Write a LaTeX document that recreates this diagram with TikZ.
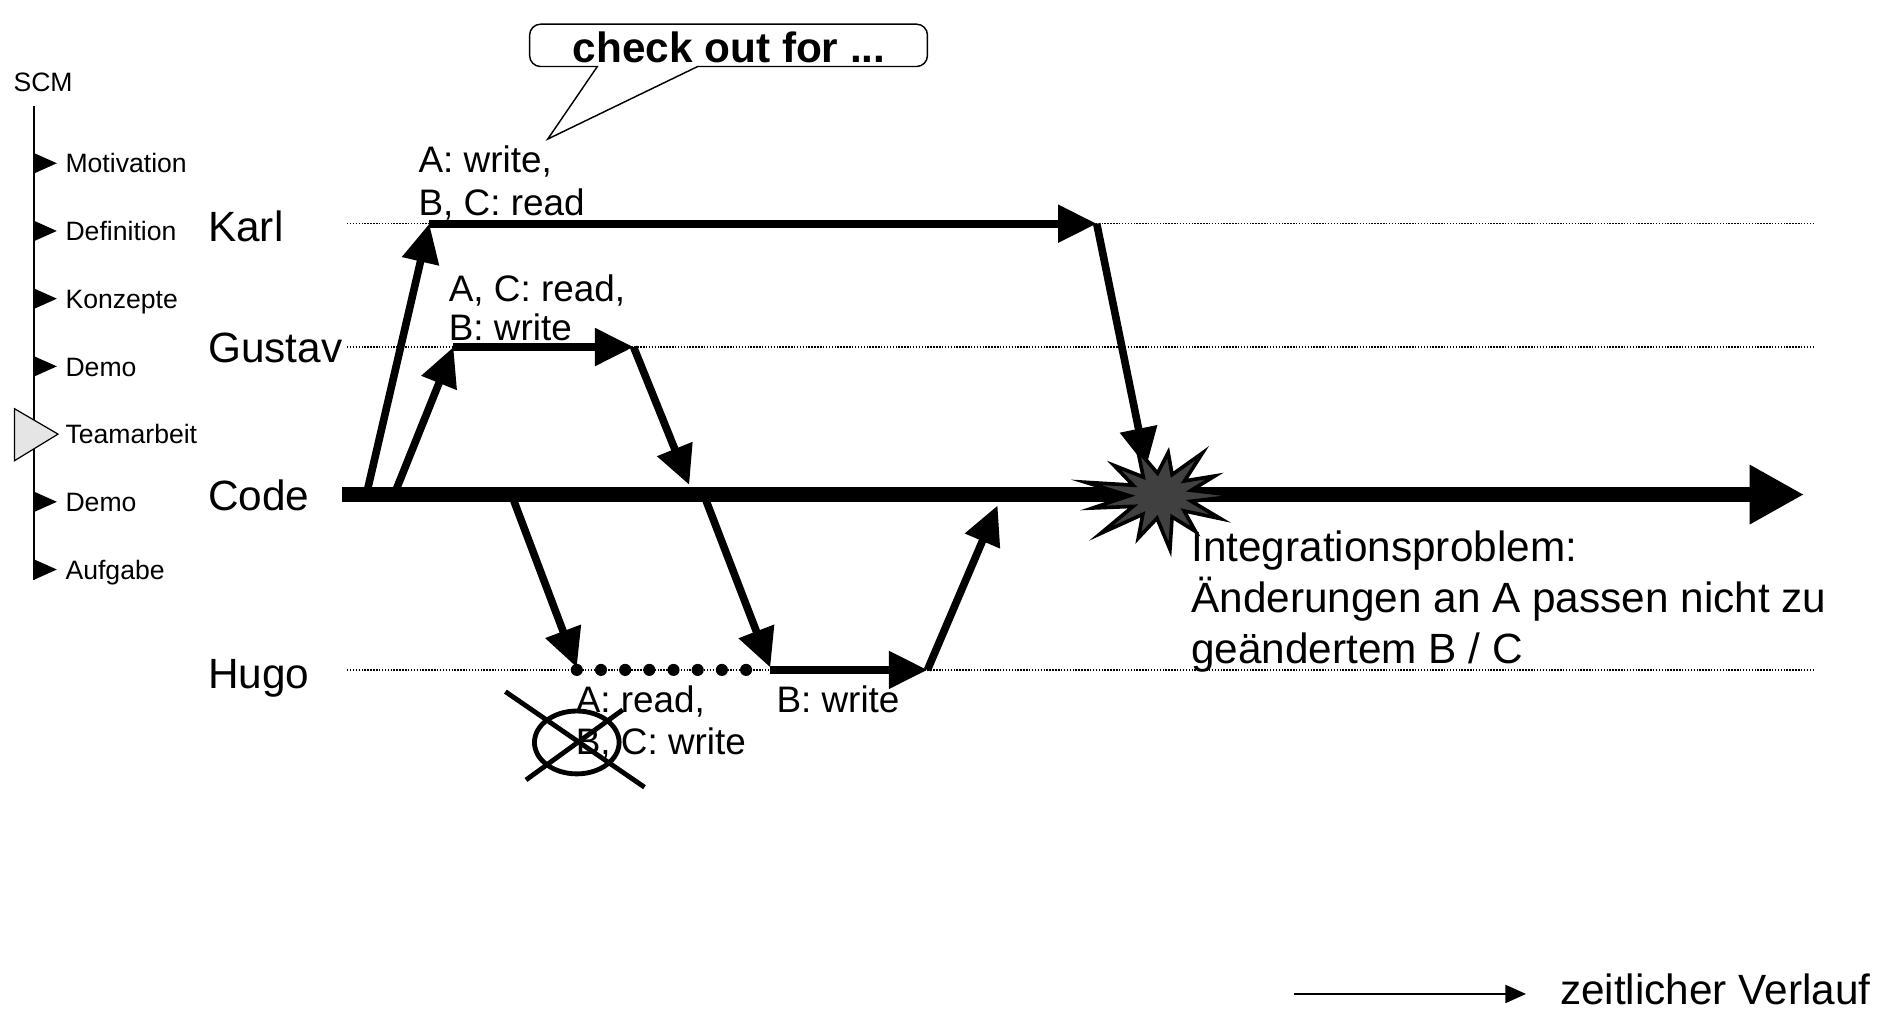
\documentclass[tikz,border=0pt]{standalone}
\usepackage{fontspec}
\setmainfont{Liberation Sans}
\usetikzlibrary{arrows.meta}
\begin{document}
\begin{tikzpicture}[x=1pt,y=-1pt,
  side/.style={font=\fontsize{22}{26}\selectfont, anchor=base west, inner sep=0pt},
  lane/.style={font=\fontsize{35}{42}\selectfont, anchor=base west, inner sep=0pt},
  ann/.style={font=\fontsize{30.5}{35}\selectfont, anchor=base west, inner sep=0pt},
  big/.style={font=\fontsize{35}{42}\selectfont, anchor=base west, inner sep=0pt},
  flow/.style={line width=6.3pt, -{Triangle[length=32pt,width=30pt]}},
  laneline/.style={line width=1.1pt, dash pattern=on 1.2pt off 1.2pt},
  navtri/.style={fill=black},
  burst/.style={fill=black!75, draw=black, line width=3pt, line join=miter, miter limit=20},
  cross/.style={line width=4pt},
]
\useasboundingbox (0,0) rectangle (1568,839);

% ---------- sidebar ----------
\node[side] (scm) at (11,76) {SCM};
\coordinate (bartop) at (28,88);
\coordinate (barbot) at (28,480);
\draw[line width=1.4pt] (bartop) -- (barbot);
\foreach \yy/\txt/\nm in {135/Motivation/s1,191/Definition/s2,247/Konzepte/s3,303/Demo/s4,415/Demo/s6,471/Aufgabe/s7}{
  \fill[navtri] (28,\yy-8.5) -- (47,\yy) -- (28,\yy+8.5) -- cycle;
  \node[side] (\nm) at (54,\yy+8) {\txt};
}
\draw[fill=black!10, line width=1pt] (12,338) -- (48,359) -- (12,381) -- cycle;
\node[side] (s5) at (54,367) {Teamarbeit};

% ---------- lanes ----------
\node[lane] (karl) at (172,199.5) {Karl};
\node[lane] (gustav) at (172,300) {Gustav};
\node[lane] (code) at (172,422.5) {Code};
\node[lane] (hugo) at (172,569.5) {Hugo};

\coordinate (kl0) at (287,185);  \coordinate (kl1) at (1500,185);
\coordinate (gl0) at (287,287);  \coordinate (gl1) at (1500,287);
\coordinate (hl0) at (287,554);  \coordinate (hl1) at (1500,554);
\draw[laneline] (kl0) -- (kl1);
\draw[laneline] (gl0) -- (gl1);
\draw[laneline] (hl0) -- (hl1);

% ---------- key points ----------
\coordinate (c0) at (283,409);
\coordinate (c1) at (1492,409);
\coordinate (ka) at (303,409);
\coordinate (kb) at (355,185);
\coordinate (kc) at (907,185);
\coordinate (kd) at (948,386);
\coordinate (ga) at (326,409);
\coordinate (gb) at (375,287);
\coordinate (gc) at (524,287);
\coordinate (gd) at (570,401);
\coordinate (ha) at (423,409);
\coordinate (hb) at (477,552);
\coordinate (hc) at (582,409);
\coordinate (hd) at (637,552);
\coordinate (he) at (637,554);
\coordinate (hf) at (767,554);
\coordinate (hg) at (825,418);

% ---------- flows ----------
\draw[flow] (ka) -- (kb);
\draw[flow] (kb) -- (kc);
\draw[flow] (kc) -- (kd);
\draw[flow] (ga) -- (gb);
\draw[flow] (gb) -- (gc);
\draw[flow] (gc) -- (gd);
\draw[flow] (ha) -- (hb);
\draw[flow] (hc) -- (hd);
\draw[flow] (he) -- (hf);
\draw[flow] (hf) -- (hg);
\foreach \xx in {477,497,...,617}{ \fill (\xx,554) circle (5); }

% code trunk
\draw[line width=12.5pt, -{Triangle[length=45pt,width=46pt]}] (c0) -- (c1);

% burst
\draw[burst, shift={(960,410)}, yscale=0.72]
  (0:64) -- (14:26) -- (28:56) -- (42:26) -- (55:50) -- (69:26) -- (83:62)
  -- (97:26) -- (111:52) -- (125:26) -- (139:66) -- (152:26) -- (166:58)
  -- (180:26) -- (194:64) -- (208:26) -- (222:52) -- (236:26) -- (250:56)
  -- (264:26) -- (277:50) -- (291:26) -- (305:60) -- (319:26) -- (333:50)
  -- (346:26) -- cycle;

% ---------- annotations ----------
\node[ann] (ka1) at (346,143) {A: write,};
\node[ann] (ka2) at (346,178) {B, C: read};
\node[ann] (ga1) at (371,249) {A, C: read,};
\node[ann] (ga2) at (371,282) {B: write};
\node[ann] (ha1) at (476,589) {A: read,};
\node[ann] (ha2) at (476,624) {B, C: write};
\node[ann] (hw) at (642,589) {B: write};

\node[big] (ip1) at (985,464.5) {Integrationsproblem:};
\node[big] (ip2) at (985,506.5) {Änderungen an A passen nicht zu};
\node[big] (ip3) at (985,548.5) {geändertem B / C};

% crossed out
\draw[cross] (477,614) ellipse [x radius=35, y radius=26];
\coordinate (x1a) at (418,572); \coordinate (x1b) at (533,651);
\coordinate (x2a) at (435,645); \coordinate (x2b) at (515,587);
\draw[cross] (x1a) -- (x1b);
\draw[cross] (x2a) -- (x2b);

% ---------- callout ----------
\coordinate (tip) at (453,115);
\draw[line width=1.2pt, fill=white] (494,55) -- (tip) -- (577,55)
  [rounded corners=9pt] -- (767,55) -- (767,20) -- (438,20) -- (438,55)
  [sharp corners] -- cycle;
\node[font=\fontsize{35}{42}\selectfont\bfseries, anchor=base, inner sep=0pt] (callout) at (603,52) {check out for ...};

% ---------- time arrow ----------
\coordinate (t0) at (1070,822);
\coordinate (t1) at (1262,822);
\draw[line width=1.3pt, -{Triangle[length=17pt,width=15pt]}] (t0) -- (t1);
\node[big] (zeit) at (1290,831) {zeitlicher Verlauf};
\end{tikzpicture}
\end{document}
